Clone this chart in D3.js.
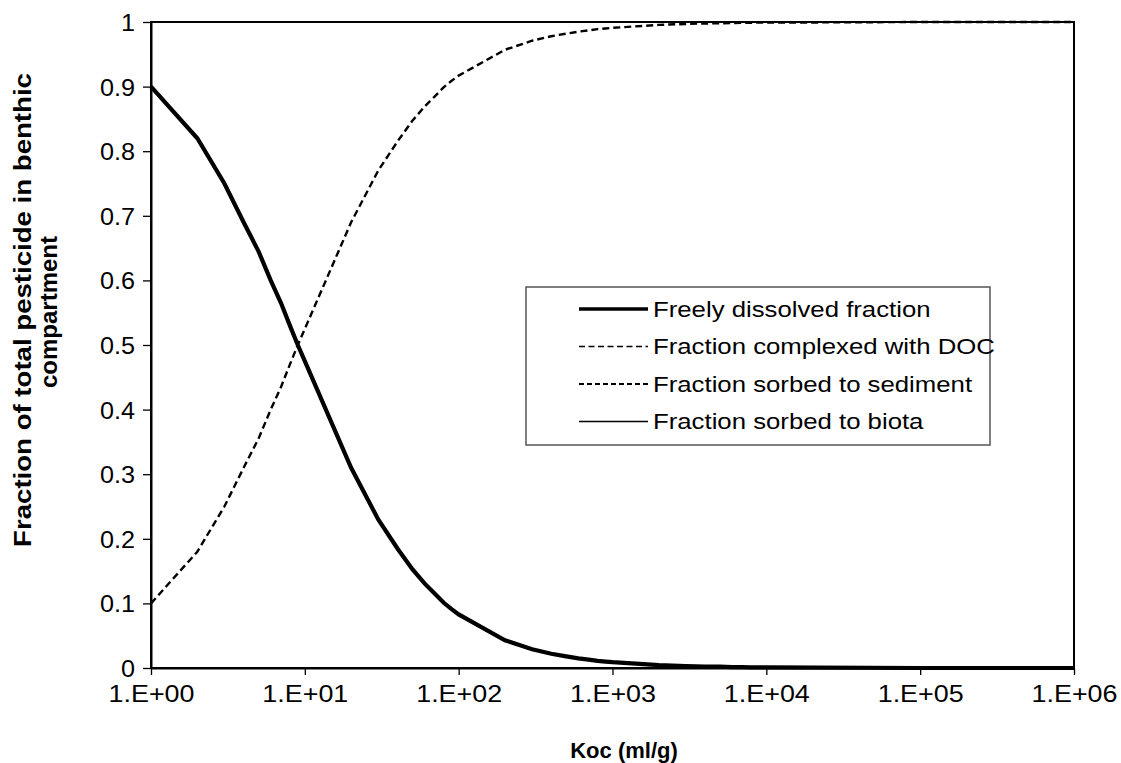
<!DOCTYPE html>
<html><head><meta charset="utf-8">
<script src="https://cdn.jsdelivr.net/npm/d3@7"></script>
<style>body{margin:0;background:#fff;font-family:Arial,"Liberation Sans",sans-serif}</style>
</head><body><svg id="c" width="1121" height="763"></svg>
<script>
const koc = [1,2,3,4,5,6,7,8,9,10,20,30,40,50,60,70,80,90,100,200,300,400,500,600,700,800,900,1000,2000,3000,4000,5000,6000,7000,8000,9000,10000,100000,1000000];
const dissolved = [0.90,0.82,0.75,0.69,0.645,0.60,0.565,0.53,0.50,0.475,0.31,0.23,0.185,0.153,0.131,0.115,0.101,0.091,0.083,0.043,0.029,0.022,0.018,0.015,0.013,0.011,0.010,0.009,0.0045,0.003,0.0023,0.002,0.0015,0.0013,0.0011,0.001,0.001,0,0];
const sediment = [0.10,0.18,0.25,0.31,0.355,0.40,0.435,0.47,0.50,0.525,0.69,0.77,0.815,0.847,0.869,0.885,0.899,0.909,0.917,0.957,0.971,0.978,0.982,0.985,0.987,0.989,0.990,0.991,0.9955,0.997,0.9977,0.998,0.9985,0.9987,0.9989,0.999,0.999,1,1];
const docFrac = [0,0,0,0,0,0,0,0,0,0,0,0,0,0,0,0,0,0,0,0,0,0,0,0,0,0,0,0,0,0,0,0,0,0,0,0,0,0,0];
const biota = [0,0,0,0,0,0,0,0,0,0,0,0,0,0,0,0,0,0,0,0,0,0,0,0,0,0,0,0,0,0,0,0,0,0,0,0,0,0,0];
const xTicks = [1,10,100,1000,10000,100000,1000000];
const xTickLabels = ["1.E+00","1.E+01","1.E+02","1.E+03","1.E+04","1.E+05","1.E+06"];
const yTicks = [0,0.1,0.2,0.3,0.4,0.5,0.6,0.7,0.8,0.9,1];
const yTickLabels = ["0","0.1","0.2","0.3","0.4","0.5","0.6","0.7","0.8","0.9","1"];
const seriesNames = ["Freely dissolved fraction","Fraction complexed with DOC","Fraction sorbed to sediment","Fraction sorbed to biota"];

const FONT="Arial, 'Liberation Sans', sans-serif";
const L=151,R=1074,T=22,B=668;
const svg=d3.select("#c");
const x=d3.scaleLog().domain([1,1e6]).range([L,R]);
const y=d3.scaleLinear().domain([0,1]).range([B,T]);

function stretch(sel,f){
  sel.each(function(){
    const n=this.getComputedTextLength();
    d3.select(this).attr("textLength",n*f).attr("lengthAdjust","spacingAndGlyphs");
  });
}

const styles=[
 {w:4.2,dash:null},
 {w:1.2,dash:"5,3"},
 {w:2.4,dash:"7,4"},
 {w:1.3,dash:null}
];
const series=[dissolved,docFrac,sediment,biota];

// frame
svg.append("rect").attr("x",L).attr("y",T).attr("width",R-L).attr("height",B-T)
 .attr("fill","none").attr("stroke","#000").attr("stroke-width",2);

// axes
const xa=svg.append("g").attr("transform",`translate(0,${B})`)
 .call(d3.axisBottom(x).tickValues(xTicks).tickFormat((d,i)=>xTickLabels[i]).tickSize(7).tickSizeOuter(0));
const ya=svg.append("g").attr("transform",`translate(${L},0)`)
 .call(d3.axisLeft(y).tickValues(yTicks).tickFormat((d,i)=>yTickLabels[i]).tickSize(8).tickSizeOuter(0));
[xa,ya].forEach(g=>{
 g.select(".domain").attr("stroke","#000").attr("stroke-width",2);
 g.selectAll(".tick line").attr("stroke","#000").attr("stroke-width",1.3);
 g.selectAll("text").attr("font-family",FONT).attr("font-size",24).attr("fill","#000");
});
xa.selectAll("text").attr("dy",null).attr("y",34);
ya.selectAll("text").attr("x",-16).attr("dy","0.35em");
stretch(xa.selectAll("text"),1.12);
stretch(ya.selectAll("text"),1.05);

// lines
const line=d3.line().x((d,i)=>x(koc[i])).y(d=>y(d));
[1,3,2,0].forEach(k=>{
 svg.append("path").datum(series[k]).attr("d",line).attr("fill","none")
  .attr("stroke","#000").attr("stroke-width",styles[k].w)
  .attr("stroke-dasharray",styles[k].dash);
});

// legend
const lg=svg.append("g");
lg.append("rect").attr("x",526).attr("y",287).attr("width",464).attr("height",158)
 .attr("fill","#fff").attr("stroke","#555").attr("stroke-width",1.5);
seriesNames.forEach((n,k)=>{
 const yy=309+k*37.5;
 lg.append("line").attr("x1",579).attr("x2",648).attr("y1",yy).attr("y2",yy)
  .attr("stroke","#000").attr("stroke-width",k===0?3.5:(k===2?2:1.3)).attr("stroke-dasharray",k===1?"6,3.5":(k===2?"5,3":null));
 const t=lg.append("text").attr("x",653).attr("y",yy).attr("dy","0.36em").attr("font-size",22)
  .attr("font-family",FONT).text(n);
 stretch(t,1.17);
});

// titles
const t1=svg.append("text").attr("transform","translate(31,310) rotate(-90)").attr("text-anchor","middle")
 .attr("font-weight","bold").attr("font-size",24).attr("font-family",FONT)
 .text("Fraction of total pesticide in benthic");
stretch(t1,1.15);
const t2=svg.append("text").attr("transform","translate(57,312) rotate(-90)").attr("text-anchor","middle")
 .attr("font-weight","bold").attr("font-size",24).attr("font-family",FONT)
 .text("compartment");
const t3=svg.append("text").attr("x",624).attr("y",758).attr("text-anchor","middle")
 .attr("font-weight","bold").attr("font-size",22).attr("font-family",FONT)
 .text("Koc (ml/g)");
</script></body></html>
